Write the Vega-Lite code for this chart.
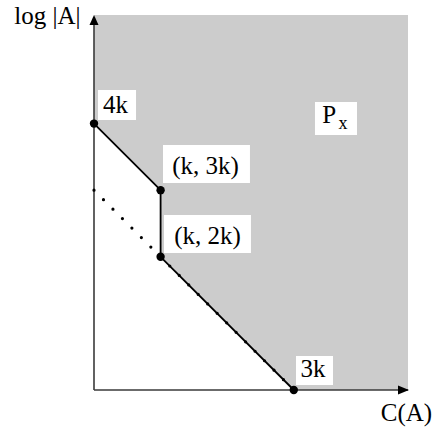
{
  "$schema": "https://vega.github.io/schema/vega-lite/v6.json",
  "width": 315,
  "height": 375,
  "autosize": {"type": "none"},
  "padding": {"left": 94, "top": 15, "right": 27, "bottom": 39},
  "background": "white",
  "config": {"view": {"stroke": null}},
  "datasets": {
    "region": [
      {"c": 0, "logA": 4, "top": 5.63},
      {"c": 1, "logA": 3, "top": 5.63},
      {"c": 1, "logA": 2, "top": 5.63},
      {"c": 3, "logA": 0, "top": 5.63},
      {"c": 4.715, "logA": 0, "top": 5.63}
    ],
    "boundary": [
      {"i": 0, "c": 0, "logA": 4},
      {"i": 1, "c": 1, "logA": 3},
      {"i": 2, "c": 1, "logA": 2},
      {"i": 3, "c": 3, "logA": 0}
    ],
    "dotted": [
      {"i": 0, "c": 0, "logA": 3},
      {"i": 1, "c": 1, "logA": 2},
      {"i": 2, "c": 3, "logA": 0}
    ],
    "vertices": [
      {"c": 0, "logA": 4},
      {"c": 1, "logA": 3},
      {"c": 1, "logA": 2},
      {"c": 3, "logA": 0}
    ],
    "boxes": [
      {"x": 0.06, "x2": 0.631, "y": 4.505, "y2": 4.054},
      {"x": 1.036, "x2": 2.342, "y": 3.679, "y2": 3.108},
      {"x": 1.051, "x2": 2.357, "y": 2.628, "y2": 2.057},
      {"x": 3.033, "x2": 3.589, "y": 0.511, "y2": 0.075},
      {"x": 3.318, "x2": 3.949, "y": 4.324, "y2": 3.829}
    ],
    "axes": [
      {"x": 0, "y": 0, "x2": 4.715, "y2": 0},
      {"x": 0, "y": 0, "x2": 0, "y2": 5.6}
    ],
    "arrows": [
      {"x": 4.73, "y": 0, "dir": "right"},
      {"x": 0, "y": 5.63, "dir": "up"}
    ],
    "labels": [
      {"text": "4k", "x": 0.323, "y": 4.279},
      {"text": "(k, 3k)", "x": 1.674, "y": 3.356},
      {"text": "(k, 2k)", "x": 1.704, "y": 2.312},
      {"text": "3k", "x": 3.288, "y": 0.315},
      {"text": "P", "x": 3.53, "y": 4.129},
      {"text": "C(A)", "x": 4.692, "y": -0.338},
      {"text": "log |A|", "x": -0.7, "y": 5.616}
    ],
    "subLabels": [
      {"text": "x", "x": 3.74, "y": 3.99}
    ]
  },
  "encoding": {},
  "layer": [
    {
      "data": {"name": "region"},
      "mark": {"type": "area", "fill": "#cccccc", "fillOpacity": 1, "stroke": null, "clip": false},
      "encoding": {
        "x": {"field": "c", "type": "quantitative", "scale": {"domain": [0, 4.73], "nice": false, "zero": false}, "axis": null},
        "y": {"field": "logA", "type": "quantitative", "stack": null, "scale": {"domain": [0, 5.63], "nice": false, "zero": false}, "axis": null},
        "y2": {"field": "top"}
      }
    },
    {
      "data": {"name": "boxes"},
      "mark": {"type": "rect", "fill": "white", "fillOpacity": 1},
      "encoding": {
        "x": {"field": "x", "type": "quantitative"},
        "x2": {"field": "x2"},
        "y": {"field": "y", "type": "quantitative"},
        "y2": {"field": "y2"}
      }
    },
    {
      "data": {"name": "axes"},
      "mark": {"type": "rule", "color": "#3a3a3a", "strokeWidth": 1.6, "clip": false},
      "encoding": {
        "x": {"field": "x", "type": "quantitative"},
        "x2": {"field": "x2"},
        "y": {"field": "y", "type": "quantitative"},
        "y2": {"field": "y2"}
      }
    },
    {
      "data": {"name": "dotted"},
      "mark": {"type": "line", "color": "black", "strokeWidth": 3.2, "strokeCap": "round", "strokeDash": [0, 13.4], "clip": false},
      "encoding": {
        "x": {"field": "c", "type": "quantitative"},
        "y": {"field": "logA", "type": "quantitative"},
        "order": {"field": "i"}
      }
    },
    {
      "data": {"name": "boundary"},
      "mark": {"type": "line", "color": "black", "strokeWidth": 1.8, "clip": false},
      "encoding": {
        "x": {"field": "c", "type": "quantitative"},
        "y": {"field": "logA", "type": "quantitative"},
        "order": {"field": "i"}
      }
    },
    {
      "data": {"name": "vertices"},
      "mark": {"type": "point", "filled": true, "color": "black", "opacity": 1, "size": 70, "shape": "circle", "clip": false},
      "encoding": {
        "x": {"field": "c", "type": "quantitative"},
        "y": {"field": "logA", "type": "quantitative"}
      }
    },
    {
      "data": {"name": "arrows"},
      "mark": {"type": "point", "filled": true, "color": "black", "opacity": 1, "size": 400, "clip": false},
      "encoding": {
        "x": {"field": "x", "type": "quantitative"},
        "y": {"field": "y", "type": "quantitative"},
        "shape": {"field": "dir", "type": "nominal", "scale": {"domain": ["up", "right"], "range": ["M0,0L-0.45,1L0.45,1Z", "M0,0L-1.1,-0.45L-1.1,0.45Z"]}, "legend": null}
      }
    },
    {
      "data": {"name": "labels"},
      "mark": {"type": "text", "font": "Liberation Serif", "fontSize": 25, "color": "black", "align": "center", "baseline": "middle"},
      "encoding": {
        "x": {"field": "x", "type": "quantitative"},
        "y": {"field": "y", "type": "quantitative"},
        "text": {"field": "text"}
      }
    },
    {
      "data": {"name": "subLabels"},
      "mark": {"type": "text", "font": "Liberation Serif", "fontSize": 18, "color": "black", "align": "center", "baseline": "middle"},
      "encoding": {
        "x": {"field": "x", "type": "quantitative"},
        "y": {"field": "y", "type": "quantitative"},
        "text": {"field": "text"}
      }
    }
  ]
}
